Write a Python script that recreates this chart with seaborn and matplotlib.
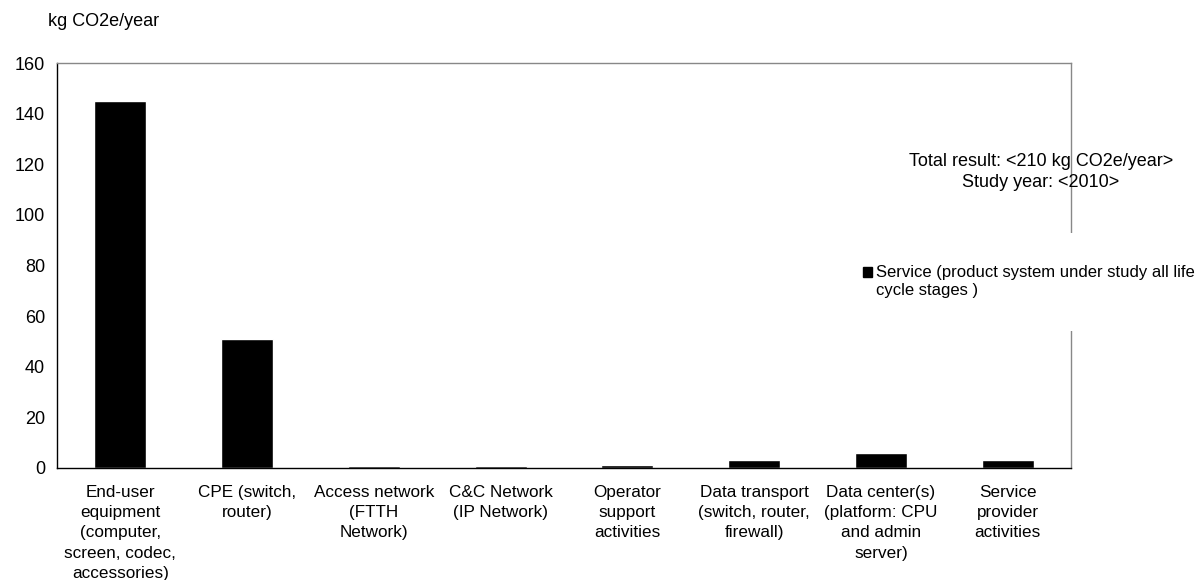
import seaborn as sns
import matplotlib.pyplot as plt
from matplotlib.patches import Patch, Rectangle
from matplotlib.legend_handler import HandlerPatch

categories = [
    "End-user\nequipment\n(computer,\nscreen, codec,\naccessories)",
    "CPE (switch,\nrouter)",
    "Access network\n(FTTH\nNetwork)",
    "C&C Network\n(IP Network)",
    "Operator\nsupport\nactivities",
    "Data transport\n(switch, router,\nfirewall)",
    "Data center(s)\n(platform: CPU\nand admin\nserver)",
    "Service\nprovider\nactivities",
]
values = [145, 51, 0.6, 0.8, 1.1, 3.2, 5.8, 3.2]
y_ticks = [0, 20, 40, 60, 80, 100, 120, 140, 160]
series_label = "Service (product system under study all life\ncycle stages )"

sns.set_style("white")
plt.rcParams["font.family"] = ["Liberation Sans", "DejaVu Sans"]
plt.rcParams["text.color"] = "black"
plt.rcParams["xtick.labelcolor"] = "black"
plt.rcParams["ytick.labelcolor"] = "black"

fig = plt.figure(figsize=(11.95, 5.8), dpi=100)
ax = fig.add_axes([57 / 1195, 1 - 468 / 580, (1071 - 57) / 1195, (468 - 63) / 580])

sns.barplot(x=list(range(len(values))), y=values, color="black", saturation=1,
            width=0.41, ax=ax)

ax.set_ylim(0, 160)
ax.set_xlim(-0.5, len(values) - 0.5)
ax.set_yticks(y_ticks)
ax.set_xticks(range(len(categories)))
ax.set_xticklabels(categories, linespacing=1.45, fontsize=12.3)
ax.set_xticks([i + 0.5 for i in range(-1, len(categories))], minor=True)
ax.tick_params(axis="x", which="major", length=0, pad=12)
ax.tick_params(axis="x", which="minor", length=4.5, color="#999999", direction="out")
ax.tick_params(axis="y", length=4.5, color="#999999", direction="out", pad=4, labelsize=13)
ax.set_xlabel("")
ax.set_ylabel("")

for side in ["left", "bottom"]:
    ax.spines[side].set_color("black")
    ax.spines[side].set_visible(True)
for side in ["top", "right"]:
    ax.spines[side].set_color("#888888")
    ax.spines[side].set_visible(True)
for s in ax.spines.values():
    s.set_linewidth(1)

fig.text(48 / 1195, 1 - 22 / 580, "kg CO2e/year", fontsize=13, va="center", ha="left")
fig.text(1041 / 1195, 1 - 172 / 580, "Total result: <210 kg CO2e/year>\nStudy year: <2010>",
         fontsize=13, ha="center", va="center", linespacing=1.3)


# square sits next to the first line of the label
def first_line_square(legend, orig_handle, xdescent, ydescent, width, height, fontsize):
    return Rectangle((-xdescent, -ydescent + 0.6 * fontsize), width, height)


handle = Patch(facecolor="black", edgecolor="black")
leg = fig.legend([handle], [series_label], loc="center left",
                 bbox_to_anchor=(830 / 1195, 1 - 281.5 / 580), frameon=True,
                 facecolor="white", edgecolor="none", framealpha=1, fancybox=False,
                 fontsize=12, handlelength=0.55, handleheight=0.55, handletextpad=0.25,
                 borderpad=1.95, borderaxespad=0,
                 handler_map={Patch: HandlerPatch(patch_func=first_line_square)})
leg.get_texts()[0].set_linespacing(1.25)

fig.savefig("out.png", dpi=100)
